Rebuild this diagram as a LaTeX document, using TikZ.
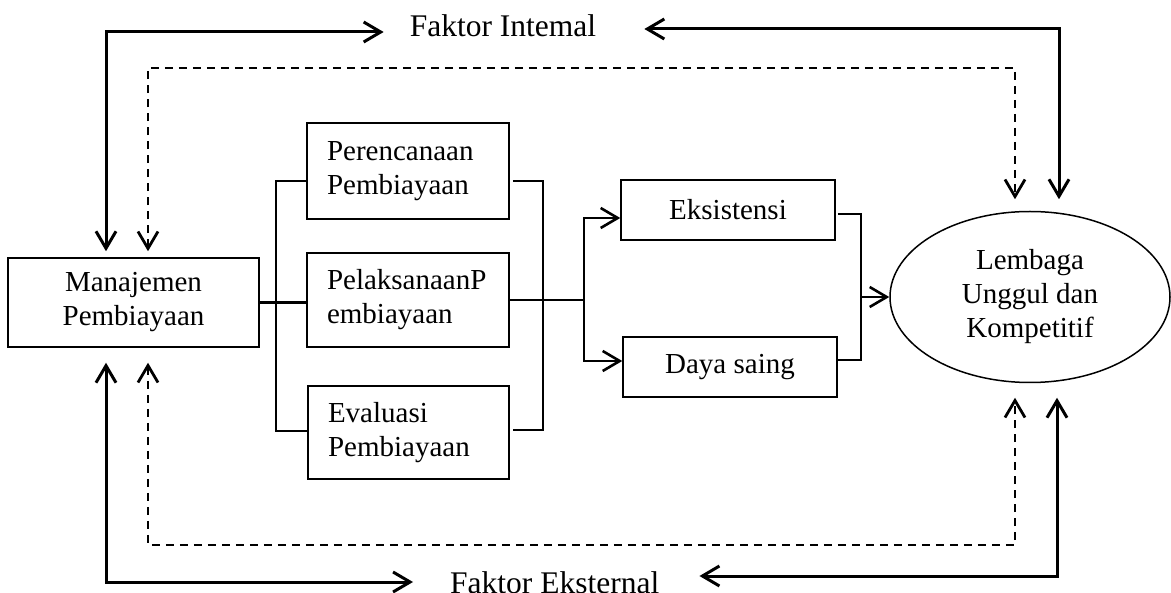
\documentclass[tikz,border=0pt]{standalone}
\usepackage{fontspec}
\setmainfont{Liberation Serif}
\usetikzlibrary{arrows.meta,shapes.geometric,calc}
\begin{document}
\begin{tikzpicture}[x=1pt,y=-1pt,
  >={Straight Barb[length=17pt,width=20pt]},
  box/.style={draw,line width=1.5pt,rectangle,inner sep=0pt,font=\fontsize{29}{34}\selectfont},
  lbl/.style={inner sep=0pt,font=\fontsize{31.5}{36}\selectfont},
  sarr/.style={line width=3pt},
  darr/.style={line width=2.8pt,dash pattern=on 8pt off 6pt},
  br/.style={line width=2.6pt}]
\useasboundingbox (0,0) rectangle (1171,593);
\clip (0,0) rectangle (1171,593);
% nodes
\node[box,minimum width=251pt,minimum height=89pt,align=center] (man) at (133.5,302.5) {Manajemen\\Pembiayaan};
\node[box,minimum width=202pt,minimum height=96pt,text width=162pt,align=left] (per) at (408,171) {Perencanaan\\Pembiayaan};
\node[box,minimum width=202pt,minimum height=94pt,text width=162pt,align=left] (pel) at (408,300) {PelaksanaanP\\embiayaan};
\node[box,minimum width=201pt,minimum height=93pt,text width=161pt,align=left] (eva) at (408.5,432.5) {Evaluasi\\Pembiayaan};
\node[box,minimum width=214pt,minimum height=60pt] (eks) at (728,210) {Eksistensi};
\node[box,minimum width=214pt,minimum height=60pt] (day) at (730,367) {Daya saing};
\node[draw,ellipse,line width=1.5pt,minimum width=280pt,minimum height=171pt,inner sep=0pt,align=center,font=\fontsize{29}{34}\selectfont] (lem) at (1030,297) {Lembaga\\Unggul dan\\Kompetitif};
\node[lbl,anchor=base] (fi) at (503,37) {Faktor Intemal};
\node[lbl,anchor=base west] (fe) at (450,594) {Faktor Eksternal};
% corner coordinates
\coordinate (tl) at (106,32);
\coordinate (tr) at (1059,29);
\coordinate (dl) at (148,68);
\coordinate (dr) at (1015,68);
\coordinate (dbl) at (148,545);
\coordinate (dbr) at (1015,545);
\coordinate (bl) at (106,582);
\coordinate (brr) at (1057,576);
\coordinate (lbt) at (276,181);
\coordinate (lbb) at (276,431);
\coordinate (rbt) at (543,181);
\coordinate (rbb) at (543,430);
\coordinate (spt) at (584,218);
\coordinate (spb) at (584,361);
\coordinate (jt) at (861,214);
\coordinate (jb) at (861,360);
% outer loops
\draw[sarr,<->] ([yshift=6pt]man.north -| tl) -- (tl) -- ([xshift=-26pt]fi.west |- tl);
\draw[sarr,<->] ([xshift=48pt]fi.east |- tr) -- (tr) -- ([yshift=11.5pt]lem.north -| tr);
\draw[darr,<->] ([yshift=6pt]man.north -| dl) -- (dl) -- (dr) -- ([yshift=11.5pt]lem.north -| dr);
\draw[darr,<->] ([yshift=-15pt]man.south -| dbl) -- (dbl) -- (dbr) -- ([yshift=-14.5pt]lem.south -| dbr);
\draw[sarr,<->] ([yshift=-15pt]man.south -| bl) -- (bl) -- ([xshift=-37pt]fe.west |- bl);
\draw[sarr,<->] ([xshift=40pt]fe.east |- brr) -- (brr) -- ([yshift=-14.5pt]lem.south -| brr);
% inner brackets
\draw[br] (man.east) -- (pel.west |- man.east);
\draw[br] (per.west |- lbt) -- (lbt) -- (lbb) -- (eva.west |- lbb);
\draw[br] ([xshift=3pt]per.east |- rbt) -- (rbt) -- (rbb) -- ([xshift=3pt]eva.east |- rbb);
\draw[br] (pel.east) -- (spt |- pel.east);
\draw[br,->] (spt |- pel.east) -- (spt) -- (eks.west |- spt);
\draw[br,->] (spt |- pel.east) -- (spb) -- (day.west |- spb);
\draw[br] ([xshift=2pt]eks.east |- jt) -- (jt) -- (jb) -- (day.east |- jb);
\draw[br,->] (jt |- lem.west) -- (lem.west);
\end{tikzpicture}
\end{document}
